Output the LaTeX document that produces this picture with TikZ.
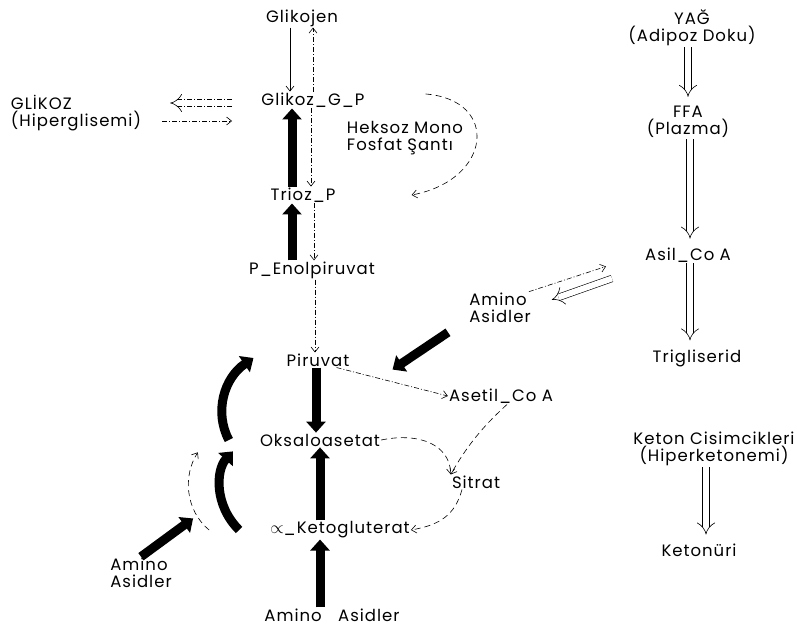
\documentclass[tikz,border=0pt]{standalone}
\usepackage{fontspec}
\setmainfont{Poppins}[LetterSpace=6]
\usepackage{tikz}
\usetikzlibrary{arrows.meta}

\begin{document}
\begin{tikzpicture}[
            x=1pt, y=-1pt,
            every node/.style={font=\fontsize{16.5}{17.5}\selectfont, inner sep=1pt, align=center},
            ince/.style={line width=0.6pt, -{Straight Barb[length=5pt,width=8pt]}},
            noktali/.style={ince, dash pattern=on 5pt off 2pt on 1pt off 2pt},
            kesikli/.style={ince, dash pattern=on 6pt off 4pt},
            kalin/.style={line width=9pt, -{Triangle[length=11pt,width=19pt]}},
            cift/.style={double, double distance=6pt, line width=0.6pt, -{Implies}, shorten >=8pt}
        ]
            \useasboundingbox (0,0) rectangle (797,631);

            % Düğümler
            \node (glikojen) at (302,18) {Glikojen};
            \node (gp) at (313,100) {Glikoz\_G\_P};
            \node (glikoz) [align=left] at (76,113) {GLİKOZ\\(Hiperglisemi)};
            \node (heksoz) [align=left] at (405,138) {Heksoz Mono\\Fosfat Şantı};
            \node (trioz) at (303,195) {Trioz\_P};
            \node (pep) at (312,270) {P\_Enolpiruvat};
            \node (piruvat) at (318,360) {Piruvat};
            \node (oksalo) at (320,440) {Oksaloasetat};
            \node (asetil) at (501,396) {Asetil\_Co A};
            \node (sitrat) at (476,482) {Sitrat};
            \node (keto) at (340,530) {$\propto$\_Ketogluterat};
            \node (amino1) at (332,615) {Amino\quad Asidler};
            \node (amino2) [align=left] at (141,573) {Amino\\Asidler};
            \node (amino3) [align=left] at (500,308) {Amino\\Asidler};
            \node (yag) at (692,28) {YAĞ\\(Adipoz Doku)};
            \node (ffa) at (688,122) {FFA\\(Plazma)};
            \node (asil) at (688,255) {Asil\_Co A};
            \node (trig) at (697,358) {Trigliserid};
            \node (keton) at (714,449) {Keton Cisimcikleri\\(Hiperketonemi)};
            \node (ketonuri) at (699,550) {Ketonüri};

            % Glikoz tarafı
            \draw[ince] (290,0 |- glikojen.south) -- (290,0 |- gp.north);
            \draw[noktali] (313,0 |- gp.north) -- (313,0 |- glikojen.south);
            \draw[cift, shorten >=0pt, dash pattern=on 5pt off 2pt on 1pt off 2pt] (232,103) -- ([xshift=28pt]glikoz.east |- 0,103);
            \draw[noktali] ([xshift=20pt]glikoz.east |- 0,121) -- (232,121);
            \draw[kalin] (292,0 |- trioz.north) -- (292,0 |- gp.south);
            \draw[noktali] (311,0 |- gp.south) -- (311,0 |- trioz.north);
            \draw[kalin] (292,0 |- pep.north) -- (292,0 |- trioz.south);
            \draw[noktali] (314,0 |- trioz.south) -- (314,0 |- pep.north);
            \draw[noktali] (315,0 |- pep.south) -- (315,0 |- piruvat.north);
            \draw[kesikli] ([xshift=60pt,yshift=6pt]gp.east) .. controls (500,100) and (492,180) .. ([xshift=75pt]trioz.east);

            % Krebs tarafı
            \draw[kalin] (316,0 |- piruvat.south) -- (316,0 |- oksalo.north);
            \draw[kalin] (320,0 |- keto.north) -- (320,0 |- oksalo.south);
            \draw[kalin] (320,0 |- amino1.north) -- (320,0 |- keto.south);
            \draw[noktali] ([xshift=-14pt]piruvat.south east) -- (asetil.west);
            \draw[kalin] ([xshift=-52pt,yshift=-8pt]amino3.south) -- ([xshift=42pt,yshift=-2pt]piruvat.south east);
            \draw[noktali] ([xshift=-3pt]amino3.north east) -- ([xshift=-38pt,yshift=-3pt]asil.south west);
            \draw[cift, shorten >=0pt] ([xshift=-32pt,yshift=-15pt]asil.south west) -- ([xshift=20pt,yshift=-8pt]amino3.north east);
            \draw[kesikli] (oksalo.east) .. controls (420,432) and (450,445) .. (sitrat.north west);
            \draw[kesikli] ([xshift=6pt]asetil.south) .. controls (490,420) and (470,440) .. (sitrat.north west);
            \draw[kesikli] ([xshift=-14pt]sitrat.south) .. controls (455,515) and (440,525) .. (keto.east);

            % Sol eğri oklar
            \draw[kalin] ([xshift=-30pt]oksalo.west) .. controls (214,412) and (224,378) .. ([xshift=-32pt,yshift=2pt]piruvat.west);
            \draw[kalin] ([xshift=-30pt]keto.west) .. controls (214,505) and (216,470) .. ([xshift=-26pt,yshift=-4pt]oksalo.south west);
            \draw[kesikli] ([xshift=-60pt]keto.west) .. controls (185,510) and (183,475) .. ([xshift=-61pt,yshift=-5pt]oksalo.south west);
            \draw[kalin] (amino2.north) -- ([xshift=-76pt,yshift=2pt]keto.north west);

            % Yağ tarafı
            \draw[cift] (688,0 |- yag.south) -- (688,0 |- ffa.north);
            \draw[cift] (690,0 |- ffa.south) -- (690,0 |- asil.north);
            \draw[cift] (690,0 |- asil.south) -- (690,0 |- trig.north);
            \draw[cift] (706,0 |- keton.south) -- (706,0 |- ketonuri.north);
        \end{tikzpicture}
\end{document}
